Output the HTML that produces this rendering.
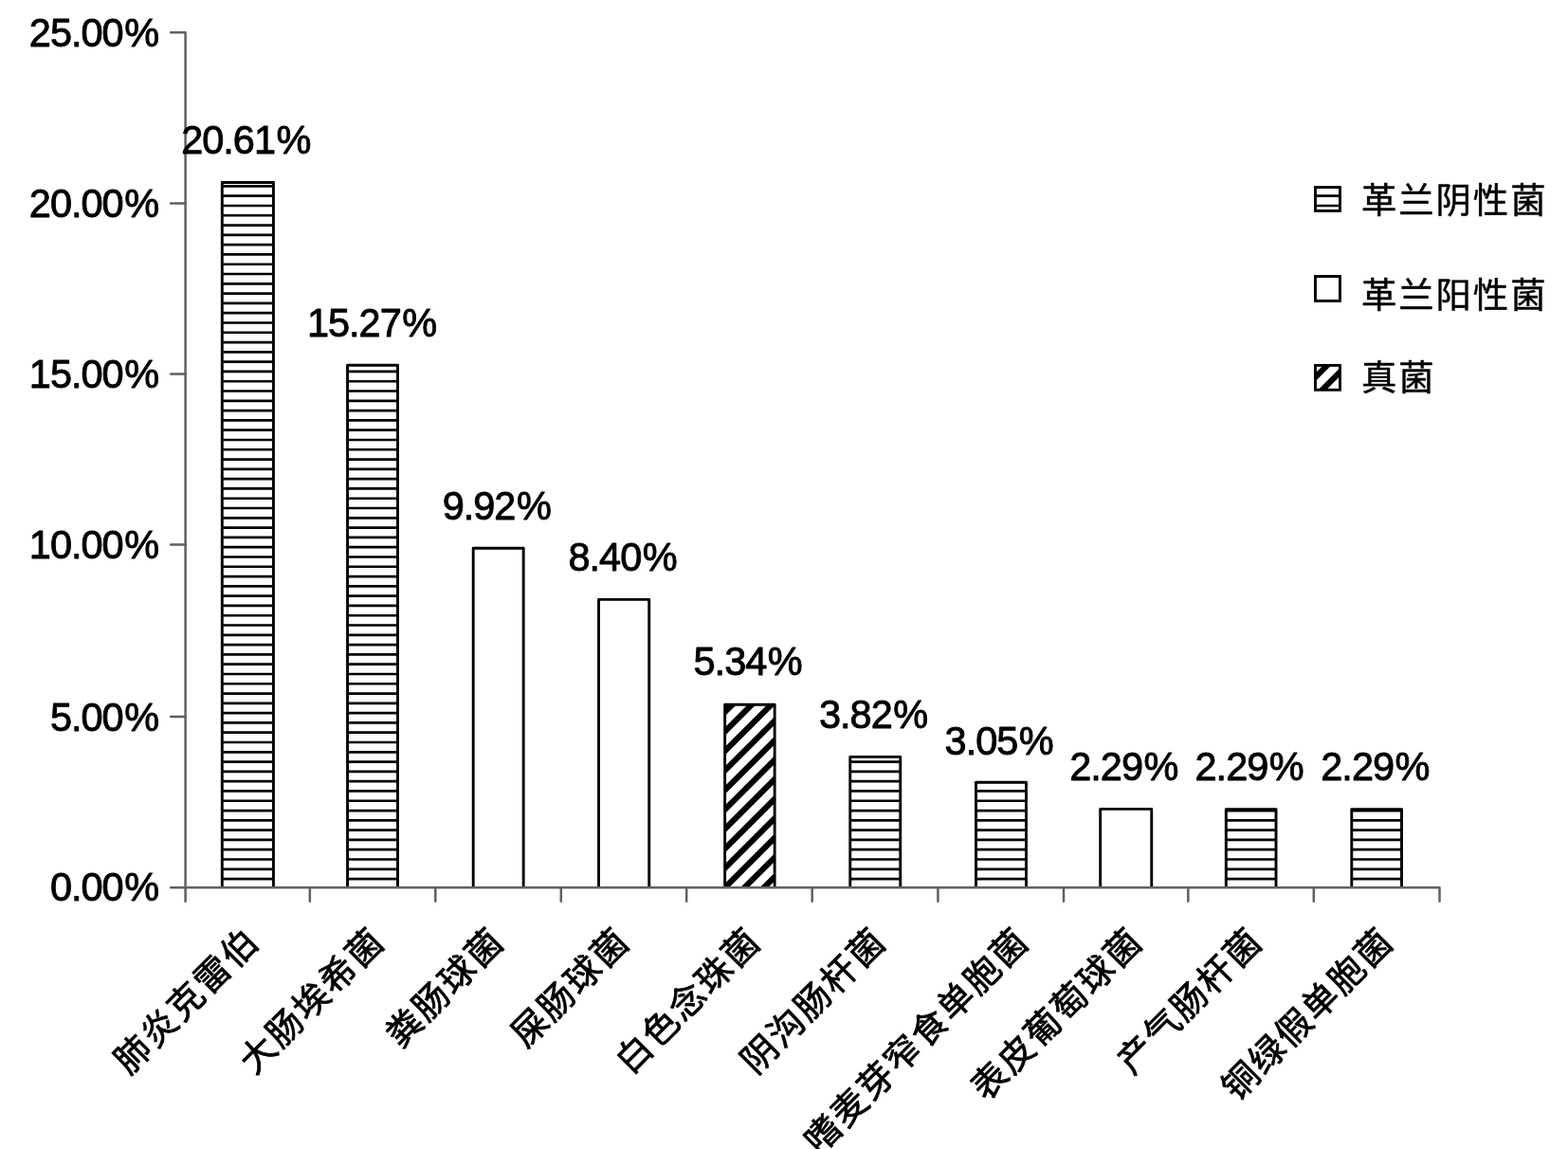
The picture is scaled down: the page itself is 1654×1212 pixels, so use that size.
<!DOCTYPE html>
<html lang="zh-CN">
<head>
<meta charset="utf-8">
<title>病原菌分布</title>
<style>
html,body{margin:0;padding:0;background:#fff;}
body{width:1654px;height:1212px;overflow:hidden;}
svg{display:block;}
.n{font-family:"Liberation Sans",sans-serif;font-size:43px;letter-spacing:-1.05px;fill:#000;stroke:#000;stroke-width:0.95px;stroke-linejoin:round;}
.c{font-family:"Liberation Sans","Noto Sans CJK SC",sans-serif;font-size:37.4px;letter-spacing:1.9px;fill:#000;stroke:#000;stroke-width:0.45px;stroke-linejoin:round;}
.x{stroke-width:0.8px;font-weight:400;letter-spacing:2.2px;}
</style>
</head>
<body>
<svg width="1654" height="1212" viewBox="0 0 1654 1212">
<defs>
<clipPath id="ch"><rect x="234.30" y="192.50" width="54.17" height="743.70"/><rect x="366.54" y="385.20" width="52.97" height="551.00"/><rect x="896.78" y="798.40" width="52.97" height="137.80"/><rect x="1029.51" y="825.20" width="52.96" height="111.00"/><rect x="1293.30" y="853.60" width="52.72" height="82.60"/><rect x="1425.78" y="853.60" width="52.73" height="82.60"/><rect x="1387.48" y="197.57" width="25.97" height="24.82"/></clipPath>
<clipPath id="cd"><rect x="764.65" y="743.30" width="52.50" height="192.90"/><rect x="1387.48" y="385.40" width="25.97" height="25.88"/></clipPath>
</defs>
<rect width="1654" height="1212" fill="#fff"/>
<g clip-path="url(#ch)"><path d="M200 155.23H1500 M200 165.53H1500 M200 175.82H1500 M200 186.11H1500 M200 196.40H1500 M200 206.69H1500 M200 216.98H1500 M200 227.27H1500 M200 237.57H1500 M200 247.86H1500 M200 258.15H1500 M200 268.44H1500 M200 278.73H1500 M200 289.02H1500 M200 299.31H1500 M200 309.61H1500 M200 319.90H1500 M200 330.19H1500 M200 340.48H1500 M200 350.77H1500 M200 361.06H1500 M200 371.36H1500 M200 381.65H1500 M200 391.94H1500 M200 402.23H1500 M200 412.52H1500 M200 422.81H1500 M200 433.10H1500 M200 443.40H1500 M200 453.69H1500 M200 463.98H1500 M200 474.27H1500 M200 484.56H1500 M200 494.85H1500 M200 505.14H1500 M200 515.44H1500 M200 525.73H1500 M200 536.02H1500 M200 546.31H1500 M200 556.60H1500 M200 566.89H1500 M200 577.19H1500 M200 587.48H1500 M200 597.77H1500 M200 608.06H1500 M200 618.35H1500 M200 628.64H1500 M200 638.93H1500 M200 649.23H1500 M200 659.52H1500 M200 669.81H1500 M200 680.10H1500 M200 690.39H1500 M200 700.68H1500 M200 710.98H1500 M200 721.27H1500 M200 731.56H1500 M200 741.85H1500 M200 752.14H1500 M200 762.43H1500 M200 772.72H1500 M200 783.02H1500 M200 793.31H1500 M200 803.60H1500 M200 813.89H1500 M200 824.18H1500 M200 834.47H1500 M200 844.76H1500 M200 855.06H1500 M200 865.35H1500 M200 875.64H1500 M200 885.93H1500 M200 896.22H1500 M200 906.51H1500 M200 916.81H1500 M200 927.10H1500" fill="none" stroke="#000" stroke-width="2.7"/></g>
<g clip-path="url(#cd)"><path d="M758.20 736.93L823.60 671.53 M758.20 757.52L823.60 692.12 M758.20 778.10L823.60 712.70 M758.20 798.68L823.60 733.28 M758.20 819.27L823.60 753.87 M758.20 839.85L823.60 774.45 M758.20 860.43L823.60 795.03 M758.20 881.02L823.60 815.62 M758.20 901.60L823.60 836.20 M758.20 922.18L823.60 856.78 M758.20 942.76L823.60 877.36 M758.20 963.35L823.60 897.95 M758.20 983.93L823.60 918.53 M758.20 1004.51L823.60 939.11 M1382.48 361.75L1418.45 325.78 M1382.48 382.34L1418.45 346.37 M1382.48 402.92L1418.45 366.95 M1382.48 423.50L1418.45 387.53 M1382.48 444.09L1418.45 408.12" fill="none" stroke="#000" stroke-width="6.2"/></g>
<g fill="none" stroke="#000" stroke-width="2.9" stroke-linejoin="round" stroke-linecap="butt">
<path d="M234.30 936.20 V192.50 H288.47 V936.20"/>
<path d="M366.54 936.20 V385.20 H419.51 V936.20"/>
<path d="M499.20 936.20 V578.30 H552.17 V936.20"/>
<path d="M631.54 936.20 V632.40 H684.75 V936.20"/>
<path d="M764.65 936.20 V743.30 H817.15 V936.20"/>
<path d="M896.78 936.20 V798.40 H949.75 V936.20"/>
<path d="M1029.51 936.20 V825.20 H1082.47 V936.20"/>
<path d="M1160.67 936.20 V853.40 H1214.75 V936.20"/>
<path d="M1293.30 936.20 V853.60 H1346.02 V936.20"/>
<path d="M1425.78 936.20 V853.60 H1478.51 V936.20"/>
</g>
<g fill="none" stroke="#606060" stroke-width="2.5" stroke-linejoin="round" stroke-linecap="round">
<path d="M180.15 34.20 H195.60 V950.65"/>
<path d="M180.15 936.20 H1518.50 V950.65"/>
<path d="M180.15 756.10 H195.60"/>
<path d="M180.15 574.60 H195.60"/>
<path d="M180.15 394.40 H195.60"/>
<path d="M180.15 214.40 H195.60"/>
<path d="M326.85 936.20 V950.65"/>
<path d="M459.30 936.20 V950.65"/>
<path d="M591.80 936.20 V950.65"/>
<path d="M724.20 936.20 V950.65"/>
<path d="M856.70 936.20 V950.65"/>
<path d="M989.40 936.20 V950.65"/>
<path d="M1122.00 936.20 V950.65"/>
<path d="M1253.30 936.20 V950.65"/>
<path d="M1385.80 936.20 V950.65"/>
</g>
<g class="n" text-anchor="end">
<text transform="translate(167.05 950.48) scale(0.965 1)" dx="0 0 0 0 1.6">0.00%</text>
<text transform="translate(167.05 770.62) scale(0.965 1)" dx="0 0 0 0 1.6">5.00%</text>
<text transform="translate(167.05 588.92) scale(0.965 1)" dx="0 0 0 0 0 1.6">10.00%</text>
<text transform="translate(167.05 408.72) scale(0.965 1)" dx="0 0 0 0 0 1.6">15.00%</text>
<text transform="translate(167.05 228.72) scale(0.965 1)" dx="0 0 0 0 0 1.6">20.00%</text>
<text transform="translate(167.05 48.78) scale(0.965 1)" dx="0 0 0 0 0 1.6">25.00%</text>
</g>
<g class="n" text-anchor="middle">
<text transform="translate(259.30 162.20) scale(0.965 1)" dx="0 0 0 0 0 1.6">20.61%</text>
<text transform="translate(392.06 355.08) scale(0.965 1)" dx="0 0 0 0 0 1.6">15.27%</text>
<text transform="translate(523.70 547.72) scale(0.965 1)" dx="0 0 0 0 1.6">9.92%</text>
<text transform="translate(656.55 602.10) scale(0.965 1)" dx="0 0 0 0 1.6">8.40%</text>
<text transform="translate(788.62 712.49) scale(0.965 1)" dx="0 0 0 0 1.6">5.34%</text>
<text transform="translate(921.07 768.08) scale(0.965 1)" dx="0 0 0 0 1.6">3.82%</text>
<text transform="translate(1053.69 796.32) scale(0.965 1)" dx="0 0 0 0 1.6">3.05%</text>
<text transform="translate(1185.30 823.32) scale(0.965 1)" dx="0 0 0 0 1.6">2.29%</text>
<text transform="translate(1317.60 823.32) scale(0.965 1)" dx="0 0 0 0 1.6">2.29%</text>
<text transform="translate(1450.35 823.32) scale(0.965 1)" dx="0 0 0 0 1.6">2.29%</text>
</g>
<g class="c x" text-anchor="end">
<text transform="translate(276.14 994.80) rotate(-45)">肺炎克雷伯</text>
<text transform="translate(408.44 994.80) rotate(-45)">大肠埃希菌</text>
<text transform="translate(534.62 994.80) rotate(-45)">粪肠球菌</text>
<text transform="translate(666.92 994.80) rotate(-45)">屎肠球菌</text>
<text transform="translate(805.31 994.80) rotate(-45)">白色念珠菌</text>
<text transform="translate(937.60 994.80) rotate(-45)">阴沟肠杆菌</text>
<text transform="translate(1088.19 994.80) rotate(-45)">嗜麦芽窄食单胞菌</text>
<text transform="translate(1208.28 994.80) rotate(-45)">表皮葡萄球菌</text>
<text transform="translate(1334.47 994.80) rotate(-45)">产气肠杆菌</text>
<text transform="translate(1472.86 994.80) rotate(-45)">铜绿假单胞菌</text>
</g>
<g fill="none" stroke="#000" stroke-width="2.9" stroke-linejoin="miter">
<rect x="1387.48" y="197.57" width="25.97" height="24.82"/>
<rect x="1387.48" y="291.51" width="25.97" height="25.88"/>
<rect x="1387.48" y="385.40" width="25.97" height="25.88"/>
</g>
<g class="c">
<text x="1436.00" y="225.40">革兰阴性菌</text>
<text x="1436.00" y="325.40">革兰阳性菌</text>
<text x="1436.00" y="412.40">真菌</text>
</g>
</svg>
</body>
</html>
